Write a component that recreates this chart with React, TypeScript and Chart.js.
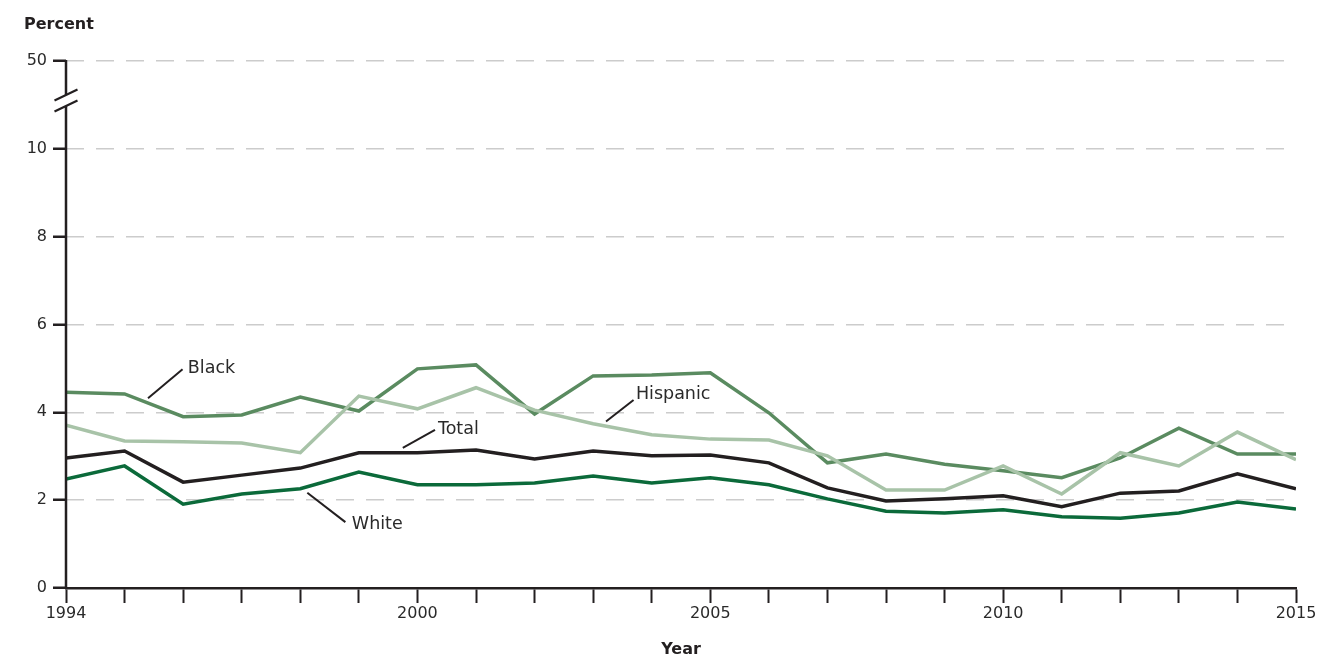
import React, { useEffect, useRef } from "react";
import { Chart, registerables } from "chart.js";

Chart.register(...registerables);

const years = [1994, 1995, 1996, 1997, 1998, 1999, 2000, 2001, 2002, 2003, 2004, 2005, 2006, 2007, 2008, 2009, 2010, 2011, 2012, 2013, 2014, 2015];
const shownYears = [1994, 2000, 2005, 2010, 2015];

const totalPct = [2.96, 3.12, 2.41, 2.57, 2.73, 3.08, 3.08, 3.14, 2.94, 3.12, 3.01, 3.03, 2.85, 2.28, 1.98, 2.03, 2.1, 1.85, 2.16, 2.21, 2.6, 2.26];
const whitePct = [2.48, 2.78, 1.91, 2.14, 2.26, 2.64, 2.35, 2.35, 2.39, 2.55, 2.39, 2.51, 2.35, 2.03, 1.75, 1.71, 1.78, 1.62, 1.59, 1.71, 1.96, 1.8];
const blackPct = [4.46, 4.42, 3.9, 3.94, 4.35, 4.03, 4.99, 5.08, 3.96, 4.83, 4.85, 4.9, 3.99, 2.85, 3.05, 2.82, 2.67, 2.51, 2.96, 3.64, 3.05, 3.05];
const hispanicPct = [3.71, 3.35, 3.33, 3.3, 3.08, 4.37, 4.08, 4.56, 4.05, 3.74, 3.49, 3.39, 3.37, 3.01, 2.23, 2.23, 2.78, 2.14, 3.08, 2.78, 3.55, 2.92];

const yTickLabels: Record<number, string> = { 12: "50" };
const breakValue = 11.1;

const seriesLabels = [
  { text: "Black", at: [1996.08, 4.99], from: [1995.4, 4.32], to: [1995.99, 4.98] },
  { text: "Total", at: [2000.35, 3.62], from: [1999.75, 3.19], to: [2000.3, 3.6] },
  { text: "Hispanic", at: [2003.73, 4.4], from: [2003.22, 3.79], to: [2003.69, 4.28] },
  { text: "White", at: [1998.88, 1.44], from: [1998.12, 2.17], to: [1998.77, 1.5] },
];

const FONT = "'DejaVu Sans', sans-serif";
const TEXT = "#2a2a2a";

const overlay = {
  id: "overlay",
  afterDraw(chart: any) {
    const ctx = chart.ctx;
    const xs = chart.scales.x;
    const ys = chart.scales.y;
    const ca = chart.chartArea;
    ctx.save();
    // y axis with break
    const ax = ca.left;
    const y0 = ys.getPixelForValue(0);
    const yTop = ys.getPixelForValue(12);
    const yb = ys.getPixelForValue(breakValue);
    ctx.strokeStyle = "#231f20";
    ctx.lineWidth = 2.5;
    ctx.beginPath();
    ctx.moveTo(ax, yTop - 1);
    ctx.lineTo(ax, yb - 5.5);
    ctx.moveTo(ax, yb + 5.5);
    ctx.lineTo(ax, y0 + 1);
    ctx.stroke();
    ctx.lineWidth = 2.2;
    ctx.beginPath();
    for (const c of [yb - 5.5, yb + 5.5]) {
      ctx.moveTo(ax - 11.5, c + 5.5);
      ctx.lineTo(ax + 11.5, c - 5.5);
    }
    ctx.stroke();

    // series labels
    ctx.font = `17.5px ${FONT}`;
    ctx.textAlign = "left";
    ctx.textBaseline = "middle";
    for (const l of seriesLabels) {
      ctx.strokeStyle = "#231f20";
      ctx.lineWidth = 2;
      ctx.beginPath();
      ctx.moveTo(xs.getPixelForValue(l.from[0]), ys.getPixelForValue(l.from[1]));
      ctx.lineTo(xs.getPixelForValue(l.to[0]), ys.getPixelForValue(l.to[1]));
      ctx.stroke();
      ctx.fillStyle = TEXT;
      ctx.fillText(l.text, xs.getPixelForValue(l.at[0]), ys.getPixelForValue(l.at[1]));
    }

    // titles
    ctx.fillStyle = "#231f20";
    ctx.font = `bold 16px ${FONT}`;
    ctx.textAlign = "left";
    ctx.fillText("Percent", 24, 25);
    ctx.textAlign = "center";
    ctx.fillText("Year", (ca.left + ca.right) / 2, ca.bottom + 62);
    ctx.restore();
  },
};

export default function App() {
  const ref = useRef<HTMLCanvasElement>(null);
  useEffect(() => {
    if (!ref.current) return;
    const mk = (label: string, data: number[], color: string) => ({
      label,
      data: years.map((y, i) => ({ x: y, y: data[i] })),
      borderColor: color,
      backgroundColor: color,
      borderWidth: 3.5,
      pointRadius: 0,
      tension: 0,
      fill: false,
    });
    const chart = new Chart(ref.current, {
      type: "line",
      data: {
        datasets: [
          mk("Total", totalPct, "#231f20"),
          mk("White", whitePct, "#0b6a3a"),
          mk("Hispanic", hispanicPct, "#a8c3a8"),
          mk("Black", blackPct, "#5a8b60"),
        ],
      },
      options: {
        animation: false,
        responsive: false,
        maintainAspectRatio: false,
        layout: { padding: { left: 0, right: 22, top: 61, bottom: 0 } },
        plugins: { legend: { display: false }, tooltip: { enabled: false } },
        scales: {
          x: {
            type: "linear",
            min: 1994,
            max: 2015,
            afterFit: (s: any) => { s.height = 72; },
            ticks: {
              stepSize: 1,
              autoSkip: false,
              maxRotation: 0,
              padding: 1,
              color: TEXT,
              font: { family: FONT, size: 16 },
              callback: (v: any) => (shownYears.includes(Number(v)) ? String(v) : ""),
            },
            grid: {
              display: true,
              drawOnChartArea: false,
              drawTicks: true,
              tickLength: 15,
              tickColor: "#231f20",
              tickWidth: 2,
              color: "#231f20",
            },
            border: { display: true, color: "#231f20", width: 2.5 },
          },
          y: {
            min: 0,
            max: 12,
            afterFit: (s: any) => { s.width = 66; },
            ticks: {
              stepSize: 2,
              padding: 6,
              color: TEXT,
              font: { family: FONT, size: 16 },
              callback: (v: any) => yTickLabels[Number(v)] ?? String(v),
            },
            grid: {
              color: (c: any) => (c.tick && c.tick.value === 0 ? "rgba(0,0,0,0)" : "#cccccc"),
              lineWidth: 1.5,
              drawTicks: true,
              tickLength: 13,
              tickColor: "#231f20",
              tickWidth: 2.5,
            },
            border: { display: false, dash: [18, 12] },
          },
        },
      },
      plugins: [overlay],
    } as any);
    return () => chart.destroy();
  }, []);
  return (
    <div style={{ position: "fixed", left: 0, top: 0, width: 1318, height: 660, background: "#fff" }}>
      <canvas ref={ref} width={1318} height={660} style={{ display: "block" }} />
    </div>
  );
}
